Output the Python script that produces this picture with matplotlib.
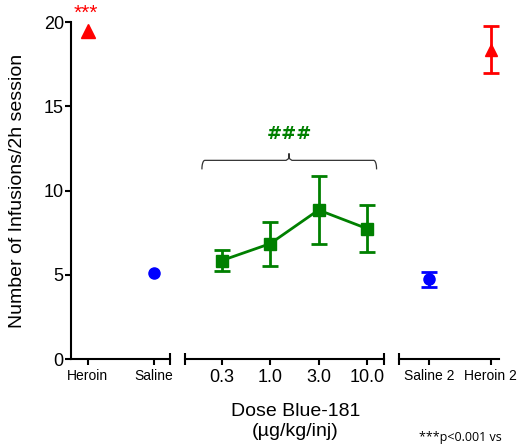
import numpy as np
import matplotlib
matplotlib.use("Agg")
import matplotlib.pyplot as plt

plt.rcParams['font.family'] = ['Liberation Sans', 'DejaVu Sans']

# data
ctrl_labels = ['Heroin', 'Saline']
ctrl_mean = [19.5, 5.1]

dose_labels = ['0.3', '1.0', '3.0', '10.0']
dose_mean = [5.85, 6.85, 8.85, 7.75]
dose_lo = [5.25, 5.55, 6.85, 6.35]
dose_hi = [6.45, 8.15, 10.85, 9.15]

post_labels = ['Saline 2', 'Heroin 2']
post_mean = [4.75, 18.35]
post_lo = [4.3, 17.0]
post_hi = [5.15, 19.8]

RED = '#ff0000'
BLUE = '#0000ff'
GREEN = '#008000'

fig = plt.figure(figsize=(5.17, 4.47), dpi=100)
W, H = 517.0, 447.0
bot = (H - 359) / H
hgt = (359 - 22.3) / H
ax1 = fig.add_axes([70.7 / W, bot, 99.3 / W, hgt])
ax2 = fig.add_axes([185 / W, bot, 199.3 / W, hgt])
ax3 = fig.add_axes([399 / W, bot, 100.3 / W, hgt])

for ax in (ax1, ax2, ax3):
    ax.set_ylim(0, 20)
    ax.patch.set_alpha(0)
    for s in ['top', 'right']:
        ax.spines[s].set_visible(False)
    ax.spines['bottom'].set_linewidth(1.5)
    ax.spines['left'].set_linewidth(1.5)
    ax.tick_params(axis='x', length=4, width=1.5, direction='out', pad=3)
    ax.tick_params(axis='y', length=4, width=1.5, direction='out', labelsize=13, pad=1)

for ax in (ax2, ax3):
    ax.spines['left'].set_visible(False)
    ax.set_yticks([])

ax1.set_yticks([0, 5, 10, 15, 20])
ax1.set_ylabel('Number of Infusions/2h session', fontsize=14, labelpad=13)

# group 1: heroin / saline
x1 = np.arange(len(ctrl_labels))
ax1.set_xlim(-0.258, 1.242)
ax1.plot(x1[0], ctrl_mean[0], marker='^', color=RED, markersize=10, clip_on=False)
ax1.plot(x1[1], ctrl_mean[1], marker='o', color=BLUE, markersize=8, clip_on=False)
ax1.set_xticks(x1)
ax1.set_xticklabels(ctrl_labels, fontsize=10)
ax1.text(x1[0] - 0.03, 20.55, '***', color=RED, fontsize=15, ha='center', va='center')

# group 2: doses
x2 = np.arange(len(dose_labels))
ax2.set_xlim(-0.76, 3.36)
yerr2 = [np.array(dose_mean) - np.array(dose_lo), np.array(dose_hi) - np.array(dose_mean)]
ax2.errorbar(x2, dose_mean, yerr=yerr2, color=GREEN, marker='s', markersize=8,
             linewidth=2, elinewidth=2, capsize=6, capthick=2, clip_on=False)
ax2.set_xticks(x2)
ax2.set_xticklabels(dose_labels, fontsize=13)

# brace over doses
bx0, bx1, bxm = -0.41, 3.2, 1.39
by, bdrop, bpeak = 11.8, 0.5, 0.4
t = np.linspace(0, np.pi / 2, 10)
left = np.c_[bx0 + 0.06 * (1 - np.cos(t)), by - bdrop + bdrop * np.sin(t)]
right = np.c_[bx1 - 0.06 * (1 - np.cos(t[::-1])), by - bdrop + bdrop * np.sin(t[::-1])]
mid = np.array([[bxm - 0.06, by], [bxm - 0.01, by + 0.1], [bxm, by + bpeak],
                [bxm + 0.01, by + 0.1], [bxm + 0.06, by]])
brace = np.vstack([left, mid, right])
ax2.plot(brace[:, 0], brace[:, 1], color='#333333', linewidth=0.9, clip_on=False)
ax2.text(bxm, 13.35, '###', color=GREEN, fontsize=13, fontweight='bold', ha='center', va='center',
         family=['DejaVu Sans'])

# group 3: saline 2 / heroin 2
x3 = np.arange(len(post_labels))
ax3.set_xlim(-0.49, 1.14)
cols = [BLUE, RED]
marks = ['o', '^']
for i in range(len(post_labels)):
    ax3.errorbar(x3[i], post_mean[i],
                 yerr=[[post_mean[i] - post_lo[i]], [post_hi[i] - post_mean[i]]],
                 color=cols[i], marker=marks[i], markersize=8 if marks[i] == 'o' else 9,
                 elinewidth=2, capsize=6, capthick=2, clip_on=False)
ax3.set_xticks(x3)
ax3.set_xticklabels(post_labels, fontsize=10)

# end caps on broken x axis
ax1.plot([ax1.get_xlim()[1]], [0], marker='|', color='black', markersize=8, mew=1.5, clip_on=False)
ax2.plot(list(ax2.get_xlim()), [0, 0], marker='|', linestyle='none', color='black', markersize=8, mew=1.5, clip_on=False)
ax3.plot([ax3.get_xlim()[0]], [0], marker='|', color='black', markersize=8, mew=1.5, clip_on=False)

fig.text(295.5 / W, (H - 421.5) / H, 'Dose Blue-181\n(µg/kg/inj)', fontsize=14,
         ha='center', va='center', linespacing=1.25)
fig.text(419 / W, (H - 437) / H, '***p<0.001 vs', fontsize=9, ha='left', va='center',
         family=['Open Sans', 'DejaVu Sans'])

fig.savefig('out.png', dpi=100)
